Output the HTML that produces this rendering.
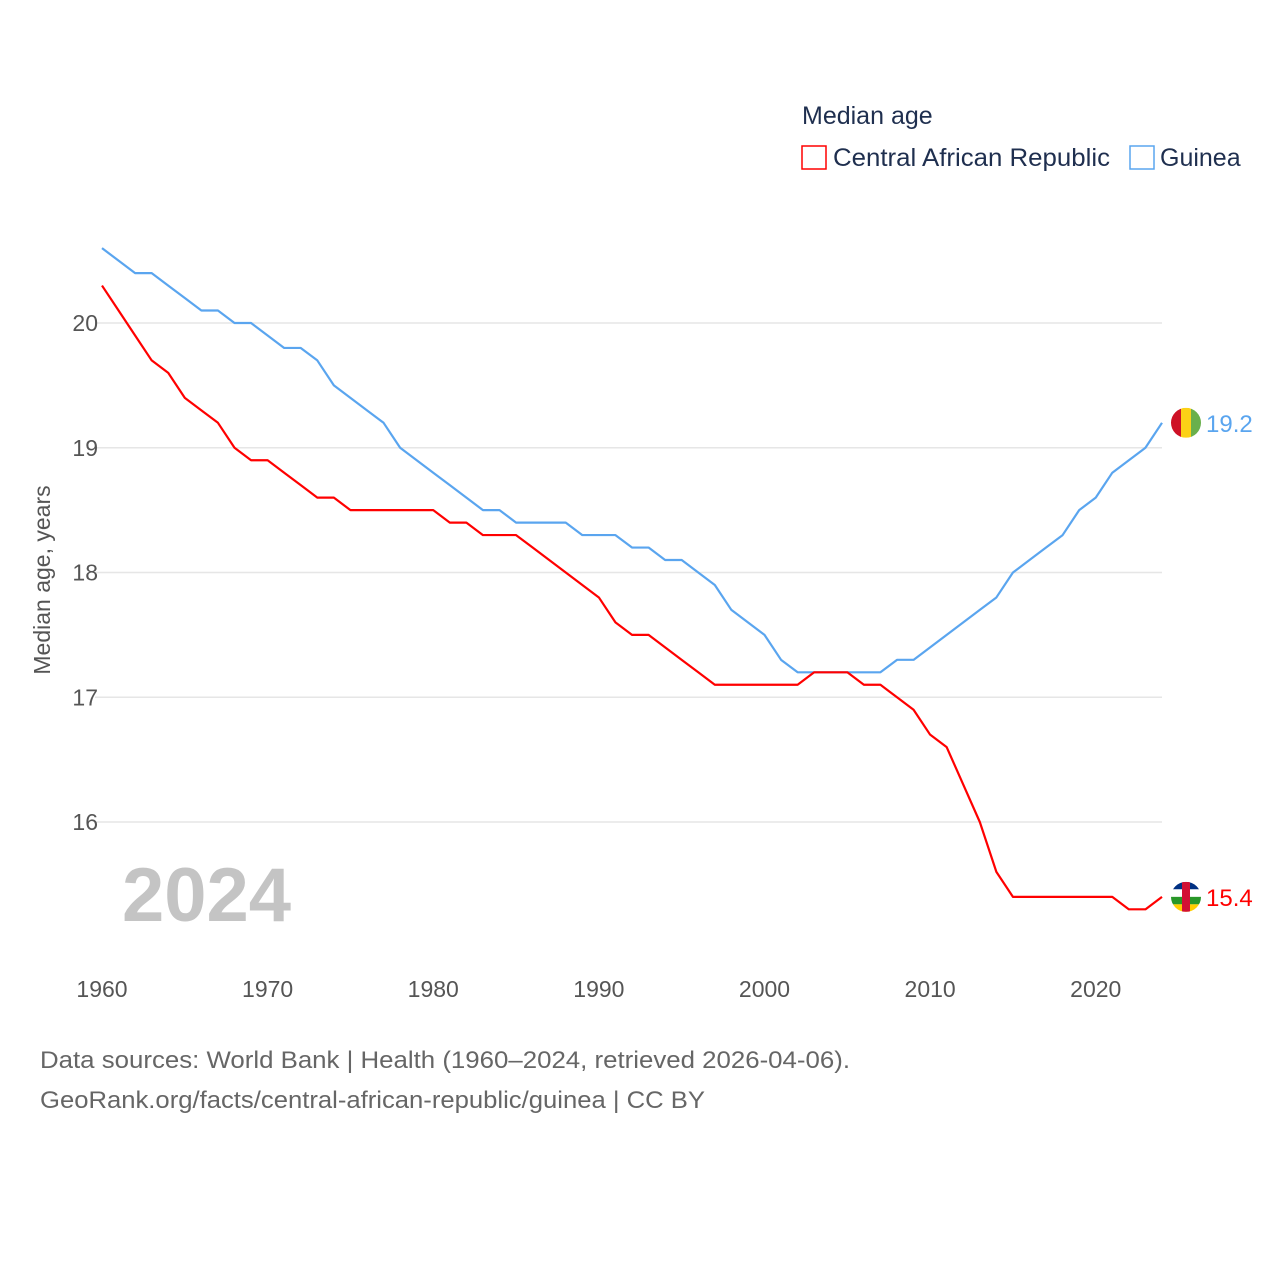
<!DOCTYPE html>
<html><head><meta charset="utf-8"><style>
body{margin:0;background:#fff;font-family:"Liberation Sans",sans-serif}
svg text{font-family:"Liberation Sans",sans-serif}
</style></head><body>
<svg id="chart" width="1280" height="1280" viewBox="0 0 1280 1280">
<text x="802" y="124" font-size="25" fill="#1f2f4f">Median age</text>
<g><rect x="802" y="146" width="24" height="23" fill="none" stroke="#ff0000" stroke-width="1.5"/><text x="833" y="166" font-size="25" fill="#1f2f4f" textLength="277" lengthAdjust="spacingAndGlyphs">Central African Republic</text></g>
<g><rect x="1130" y="146" width="24" height="23" fill="none" stroke="#5aa5ef" stroke-width="1.5"/><text x="1160" y="166" font-size="25" fill="#1f2f4f">Guinea</text></g>
<g id="grid"></g><g id="yticks"></g><g id="xticks"></g>
<text transform="translate(50,580) rotate(-90)" text-anchor="middle" font-size="23" fill="#555">Median age, years</text>
<text x="122" y="921" font-size="76" font-weight="bold" fill="#c4c4c4">2024</text>
<g id="series"></g>
<text x="40" y="1068" font-size="24" fill="#666" textLength="810" lengthAdjust="spacingAndGlyphs">Data sources: World Bank | Health (1960–2024, retrieved 2026-04-06).</text>
<text x="40" y="1108" font-size="24" fill="#666" textLength="665" lengthAdjust="spacingAndGlyphs">GeoRank.org/facts/central-african-republic/guinea | CC BY</text>
</svg>
<script>
const years=[];for(let y=1960;y<=2024;y++)years.push(y);
const carValues=[20.3,20.1,19.9,19.7,19.6,19.4,19.3,19.2,19.0,18.9,18.9,18.8,18.7,18.6,18.6,18.5,18.5,18.5,18.5,18.5,18.5,18.4,18.4,18.3,18.3,18.3,18.2,18.1,18.0,17.9,17.8,17.6,17.5,17.5,17.4,17.3,17.2,17.1,17.1,17.1,17.1,17.1,17.1,17.2,17.2,17.2,17.1,17.1,17.0,16.9,16.7,16.6,16.3,16.0,15.6,15.4,15.4,15.4,15.4,15.4,15.4,15.4,15.3,15.3,15.4];
const guineaValues=[20.6,20.5,20.4,20.4,20.3,20.2,20.1,20.1,20.0,20.0,19.9,19.8,19.8,19.7,19.5,19.4,19.3,19.2,19.0,18.9,18.8,18.7,18.6,18.5,18.5,18.4,18.4,18.4,18.4,18.3,18.3,18.3,18.2,18.2,18.1,18.1,18.0,17.9,17.7,17.6,17.5,17.3,17.2,17.2,17.2,17.2,17.2,17.2,17.3,17.3,17.4,17.5,17.6,17.7,17.8,18.0,18.1,18.2,18.3,18.5,18.6,18.8,18.9,19.0,19.2];
const yTicks=[16,17,18,19,20];
const xTicks=[1960,1970,1980,1990,2000,2010,2020];
const NS="http://www.w3.org/2000/svg";
const X=y=>102+(y-1960)*(1060/64);
const Y=v=>323+(20-v)*124.75;
function mk(t,a,p){const e=document.createElementNS(NS,t);for(const k in a)e.setAttribute(k,a[k]);p.appendChild(e);return e;}
const grid=document.getElementById('grid'),yt=document.getElementById('yticks'),xt=document.getElementById('xticks'),ser=document.getElementById('series');
yTicks.forEach(v=>{
 const l=mk('line',{x1:95,x2:1162,y1:Y(v),y2:Y(v),stroke:'#e6e6e6','stroke-width':1.5},grid);
 
 
 const t=mk('text',{x:98,y:Y(v)+8,'text-anchor':'end','font-size':23,fill:'#555'},yt);t.textContent=v;
 
 
});
xTicks.forEach(v=>{
 const t=mk('text',{x:X(v),y:997,'text-anchor':'middle','font-size':23,fill:'#555'},xt);t.textContent=v;
 
 
});
function line(vals,color,name){
 const p=mk('polyline',{points:vals.map((v,i)=>X(years[i])+','+Y(v)).join(' '),fill:'none',stroke:color,'stroke-width':2.2,'stroke-linejoin':'round'},ser);
 
 
 const last=vals[vals.length-1];
 const t=mk('text',{x:1206,y:Y(last)+9,'font-size':24,fill:color},ser);t.textContent=last.toFixed(1);
 
 
 return Y(last);
}
const gy=line(guineaValues,'#5aa5ef','guinea');
const cy=line(carValues,'#ff0000','car');
const gf=mk('g',{},ser);


const gcp=mk('clipPath',{id:'cg'},gf);mk('circle',{cx:1186,cy:gy,r:15},gcp);
const gg=mk('g',{'clip-path':'url(#cg)'},gf);
mk('rect',{x:1171,y:gy-15,width:10,height:30,fill:'#ce1126'},gg);
mk('rect',{x:1181,y:gy-15,width:10,height:30,fill:'#fcd116'},gg);
mk('rect',{x:1191,y:gy-15,width:10,height:30,fill:'#6ab04c'},gg);
const cf=mk('g',{},ser);


const cp=mk('clipPath',{id:'cc'},cf);mk('circle',{cx:1186,cy:cy,r:15},cp);
const cg=mk('g',{'clip-path':'url(#cc)'},cf);
['#003082','#ffffff','#289728','#ffce00'].forEach((c,i)=>mk('rect',{x:1171,y:cy-15+i*7.5,width:30,height:7.5,fill:c},cg));
mk('rect',{x:1182,y:cy-15,width:8,height:30,fill:'#d21034'},cg);
</script>
</body></html>
